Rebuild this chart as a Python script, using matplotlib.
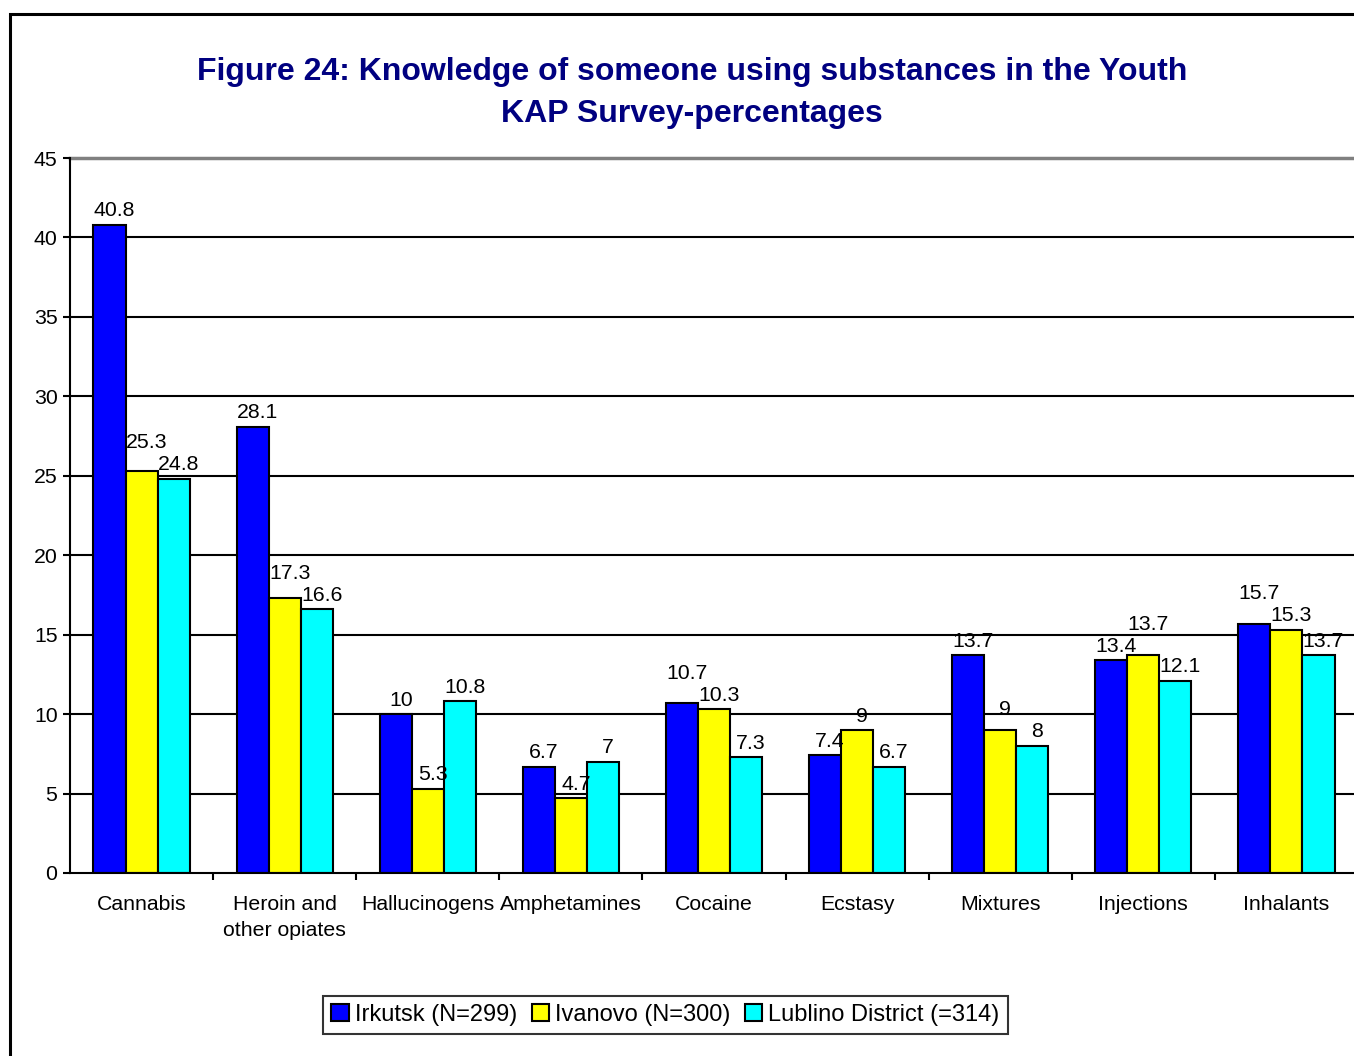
import matplotlib
matplotlib.use("Agg")
import matplotlib.pyplot as plt
from matplotlib.patches import Rectangle
from matplotlib import font_manager
import numpy as np

categories = ["Cannabis", "Heroin and\nother opiates", "Hallucinogens", "Amphetamines",
              "Cocaine", "Ecstasy", "Mixtures", "Injections", "Inhalants"]
series_names = ["Irkutsk (N=299)", "Ivanovo (N=300)", "Lublino District (=314)"]
irkutsk = [40.8, 28.1, 10, 6.7, 10.7, 7.4, 13.7, 13.4, 15.7]
ivanovo = [25.3, 17.3, 5.3, 4.7, 10.3, 9, 9, 13.7, 15.3]
lublino = [24.8, 16.6, 10.8, 7, 7.3, 6.7, 8, 12.1, 13.7]
labels_irkutsk = ["40.8", "28.1", "10", "6.7", "10.7", "7.4", "13.7", "13.4", "15.7"]
labels_ivanovo = ["25.3", "17.3", "5.3", "4.7", "10.3", "9", "9", "13.7", "15.3"]
labels_lublino = ["24.8", "16.6", "10.8", "7", "7.3", "6.7", "8", "12.1", "13.7"]
colors = ["#0000FF", "#FFFF00", "#00FFFF"]

plt.rcParams['font.family'] = ['Liberation Sans', 'DejaVu Sans']
names = {f.name for f in font_manager.fontManager.ttflist}
legend_font = 'Liberation Sans Narrow' if 'Liberation Sans Narrow' in names else 'Liberation Sans'

W, H = 1354, 1056
fig = plt.figure(figsize=(W / 100, H / 100), dpi=100)

# outer frame (extends beyond image at right/bottom)
fig.patches.append(Rectangle((10 / W, -0.1), 1.2, 1 - 14 / H + 0.1, transform=fig.transFigure,
                             fill=False, edgecolor='black', linewidth=2.2, zorder=0))

left, right, top, bottom = 70, 1358, 158, 873
ax = fig.add_axes([left / W, 1 - bottom / H, (right - left) / W, (bottom - top) / H])

fs = 15.3
n = len(categories)
x = np.arange(n)
bw = 0.224
data = [irkutsk, ivanovo, lublino]
labs = [labels_irkutsk, labels_ivanovo, labels_lublino]
for i, (vals, c, name) in enumerate(zip(data, colors, series_names)):
    ax.bar(x + (i - 1) * bw, vals, width=bw, color=c, edgecolor='black',
           linewidth=1.5, label=name, zorder=3)

ax.set_xlim(-0.5, n - 0.5)
ax.set_ylim(0, 45)

# value labels: centred just above each bar, nudged apart vertically when adjacent ones collide
px_per_unit = (bottom - top) / 45.0
base_off = 14 / px_per_unit
min_sep = 22 / px_per_unit
for j in range(n):
    vals = [d[j] for d in data]
    ys = [v + base_off for v in vals]
    for _ in range(4):
        for k in range(len(ys) - 1):
            if abs(ys[k] - ys[k + 1]) < min_sep:
                hi = k if vals[k] >= vals[k + 1] else k + 1
                lo = k + 1 if hi == k else k
                ys[hi] = ys[lo] + min_sep
    for k in range(len(ys)):
        ax.text(x[j] + (k - 1) * bw + 0.035, ys[k], labs[k][j], ha='center', va='center',
                fontsize=fs, zorder=4)

ax.set_yticks(np.arange(0, 46, 5))
ax.tick_params(axis='y', labelsize=fs, length=5, width=1.5, direction='out', pad=4)
ax.set_xticks(x)
ax.set_xticklabels(categories, fontsize=fs, linespacing=1.42)
ax.set_xticks(np.arange(0.5, n - 0.5, 1), minor=True)
ax.tick_params(axis='x', which='major', length=0, pad=16)
ax.tick_params(axis='x', which='minor', length=5, width=1.5, direction='out')

for yv in np.arange(5, 45, 5):
    ax.axhline(yv, color='black', linewidth=1.5, zorder=1)
ax.axhline(45, color='#808080', linewidth=2.5, zorder=1, clip_on=False)

for s in ['right', 'top']:
    ax.spines[s].set_visible(False)
ax.spines['left'].set_linewidth(1.5)
ax.spines['bottom'].set_linewidth(1.5)
ax.spines['bottom'].set_zorder(5)

fig.text(692 / W, 1 - 93 / H,
         "Figure 24: Knowledge of someone using substances in the Youth\nKAP Survey-percentages",
         ha='center', va='center', fontsize=23, fontweight='bold', color='#000080', linespacing=1.5)

leg = fig.legend(loc='center', bbox_to_anchor=(665.5 / W, 1 - 1015 / H), ncol=3,
                 frameon=True, fancybox=False, edgecolor='black',
                 prop={'family': legend_font, 'size': 17},
                 handlelength=0.75, handleheight=0.75, handletextpad=0.25, columnspacing=0.6,
                 borderpad=0.35)
leg.get_frame().set_linewidth(1.5)

fig.savefig("out.png", dpi=100)
